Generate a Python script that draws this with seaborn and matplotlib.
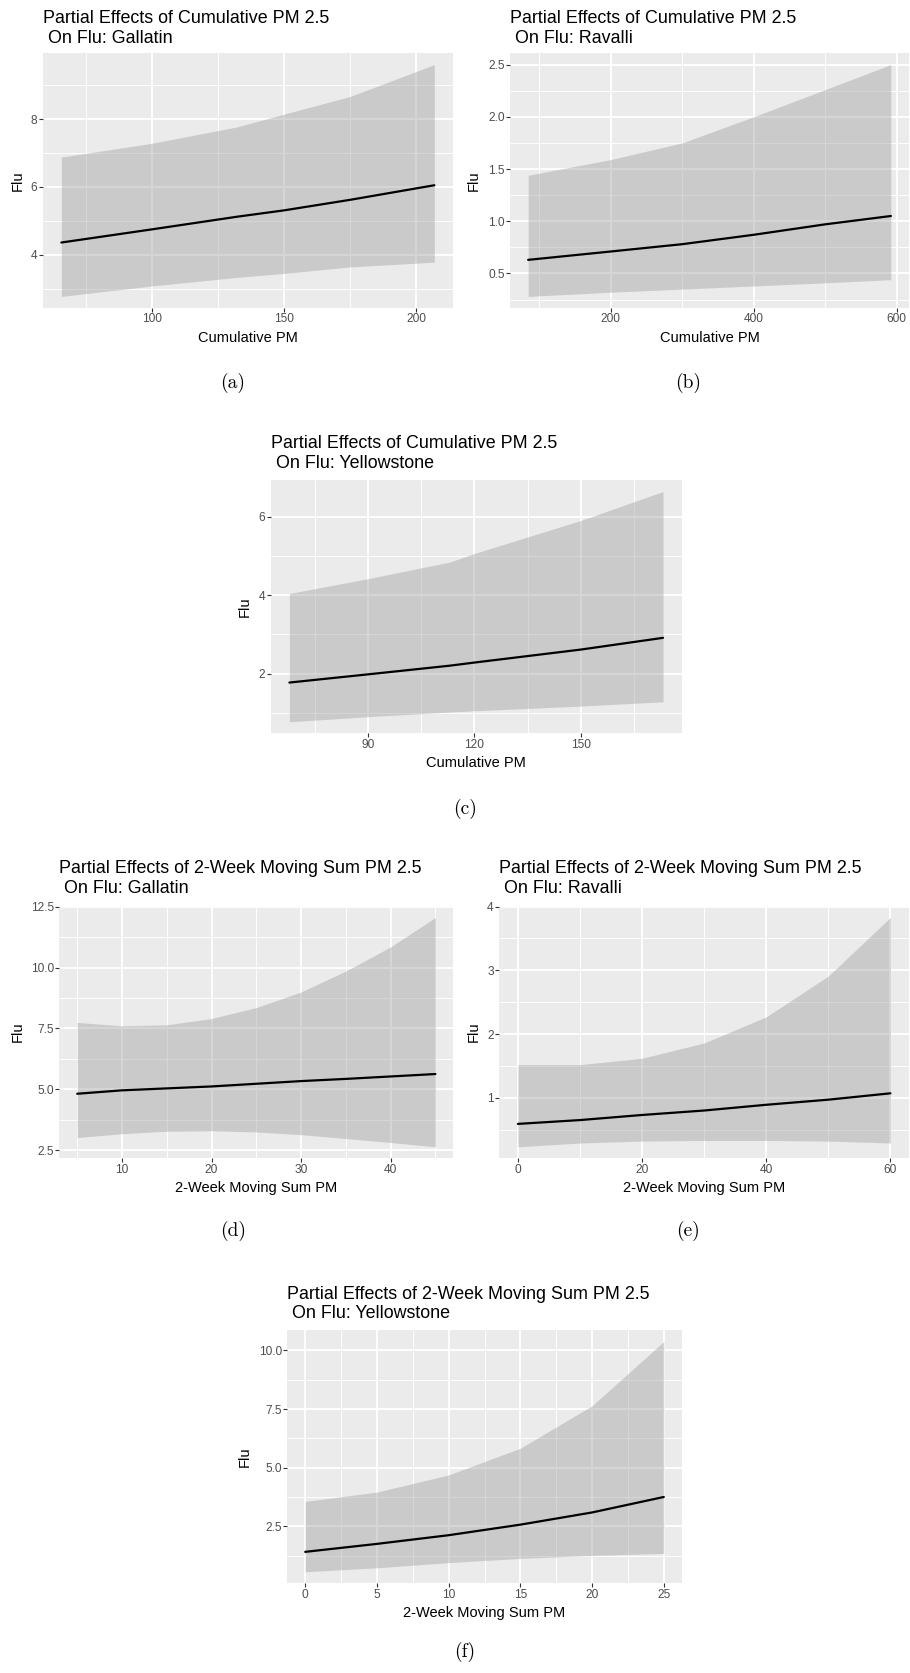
import numpy as np
import pandas as pd
import matplotlib
matplotlib.use("Agg")
import matplotlib.pyplot as plt
import seaborn as sns
from matplotlib.ticker import FixedLocator, FixedFormatter, AutoMinorLocator

# ---------------- data ----------------
title_main_cum = "Partial Effects of Cumulative PM 2.5"
title_main_mov = "Partial Effects of 2-Week Moving Sum PM 2.5"
counties = ["Gallatin", "Ravalli", "Yellowstone", "Gallatin", "Ravalli", "Yellowstone"]
xlabels = ["Cumulative PM"] * 3 + ["2-Week Moving Sum PM"] * 3
ylabel = "Flu"
captions = ["(a)", "(b)", "(c)", "(d)", "(e)", "(f)"]

# (a) Cumulative PM, Gallatin
a_x = [65.5, 100, 132, 150, 175, 206.9]
a_fit = [4.36, 4.75, 5.12, 5.31, 5.62, 6.05]
a_lo = [2.77, 3.08, 3.33, 3.45, 3.64, 3.78]
a_hi = [6.88, 7.29, 7.77, 8.15, 8.67, 9.61]
a_xt = [100, 150, 200]
a_yt = [4, 6, 8]

# (b) Cumulative PM, Ravalli
b_x = [84.6, 200, 300, 400, 500, 592]
b_fit = [0.63, 0.71, 0.78, 0.87, 0.97, 1.05]
b_lo = [0.28, 0.32, 0.35, 0.38, 0.41, 0.44]
b_hi = [1.44, 1.59, 1.75, 2.00, 2.26, 2.50]
b_xt = [200, 400, 600]
b_yt = [0.5, 1.0, 1.5, 2.0, 2.5]

# (c) Cumulative PM, Yellowstone
c_x = [67.7, 90, 113, 120, 150, 173.3]
c_fit = [1.77, 1.98, 2.20, 2.28, 2.61, 2.91]
c_lo = [0.77, 0.90, 1.02, 1.05, 1.17, 1.28]
c_hi = [4.04, 4.42, 4.84, 5.06, 5.90, 6.64]
c_xt = [90, 120, 150]
c_yt = [2, 4, 6]

# (d) 2-week moving sum, Gallatin
d_x = [5, 10, 15, 20, 25, 30, 35, 40, 45]
d_fit = [4.82, 4.96, 5.04, 5.12, 5.23, 5.34, 5.43, 5.53, 5.63]
d_lo = [3.02, 3.18, 3.28, 3.30, 3.25, 3.14, 2.98, 2.82, 2.64]
d_hi = [7.75, 7.61, 7.65, 7.91, 8.36, 9.00, 9.86, 10.85, 12.06]
d_xt = [10, 20, 30, 40]
d_yt = [2.5, 5.0, 7.5, 10.0, 12.5]

# (e) 2-week moving sum, Ravalli
e_x = [0, 10, 20, 30, 40, 50, 60]
e_fit = [0.59, 0.65, 0.73, 0.80, 0.89, 0.97, 1.07]
e_lo = [0.23, 0.29, 0.32, 0.33, 0.33, 0.32, 0.29]
e_hi = [1.52, 1.52, 1.62, 1.86, 2.27, 2.91, 3.83]
e_xt = [0, 20, 40, 60]
e_yt = [1, 2, 3, 4]

# (f) 2-week moving sum, Yellowstone
f_x = [0, 5, 10, 15, 20, 25]
f_fit = [1.41, 1.75, 2.12, 2.57, 3.09, 3.75]
f_lo = [0.56, 0.73, 0.95, 1.13, 1.26, 1.34]
f_hi = [3.56, 3.96, 4.69, 5.83, 7.64, 10.38]
f_xt = [0, 5, 10, 15, 20, 25]
f_yt = [2.5, 5.0, 7.5, 10.0]

ytick_fmt = ["{:g}", "{:.1f}", "{:g}", "{:.1f}", "{:g}", "{:.1f}"]

panels = [
    (a_x, a_fit, a_lo, a_hi, a_xt, a_yt),
    (b_x, b_fit, b_lo, b_hi, b_xt, b_yt),
    (c_x, c_fit, c_lo, c_hi, c_xt, c_yt),
    (d_x, d_fit, d_lo, d_hi, d_xt, d_yt),
    (e_x, e_fit, e_lo, e_hi, e_xt, e_yt),
    (f_x, f_fit, f_lo, f_hi, f_xt, f_yt),
]

# ---------------- layout (pixels, top-left origin) ----------------
W, H = 910, 1673
boxes = [
    (42.7, 53, 453, 308),
    (510, 53, 909, 308),
    (270.7, 480, 681.7, 733.3),
    (59.3, 906, 453.3, 1158.3),
    (499.3, 906, 909, 1158.3),
    (287.3, 1330, 681.7, 1583.3),
]
title_base = [(23.3, 42.7), (23.3, 42.7), (448.3, 468.3),
              (873.3, 893.3), (873.3, 893.3), (1299.3, 1318.3)]
ylab_x = [17.5, 473.5, 245, 17.5, 474, 244.5]
cap_pos = [(233, 388), (688, 388), (465, 813.5), (233, 1236), (688, 1236), (465, 1657)]

sns.set_theme(style="darkgrid")
plt.rcParams["font.family"] = ["Liberation Sans", "DejaVu Sans"]

fig = plt.figure(figsize=(W / 100, H / 100), dpi=100)
fig.patch.set_facecolor("white")


def ftext(x, y, s, **kw):
    return fig.text(x / W, 1 - y / H, s, **kw)


for i, (x, fit, lo, hi, xt, yt) in enumerate(panels):
    x0, y0, x1, y1 = boxes[i]
    ax = fig.add_axes([x0 / W, 1 - y1 / H, (x1 - x0) / W, (y1 - y0) / H])
    ax.set_facecolor("#EBEBEB")
    ax.fill_between(x, lo, hi, color="#999999", alpha=0.4, linewidth=0, zorder=2)
    df = pd.DataFrame({"x": x, "fit": fit})
    sns.lineplot(data=df, x="x", y="fit", ax=ax, color="black", linewidth=1.6, zorder=3)

    # ggplot-style 5% expansion of the data range
    xr = max(x) - min(x)
    ylo, yhi = min(lo), max(hi)
    yr = yhi - ylo
    ax.set_xlim(min(x) - 0.05 * xr, max(x) + 0.05 * xr)
    ax.set_ylim(ylo - 0.05 * yr, yhi + 0.05 * yr)

    ax.xaxis.set_major_locator(FixedLocator(xt))
    ax.xaxis.set_major_formatter(FixedFormatter([f"{v:g}" for v in xt]))
    ax.yaxis.set_major_locator(FixedLocator(yt))
    ax.yaxis.set_major_formatter(FixedFormatter([ytick_fmt[i].format(v) for v in yt]))
    ax.xaxis.set_minor_locator(AutoMinorLocator(2))
    ax.yaxis.set_minor_locator(AutoMinorLocator(2))

    ax.set_axisbelow(True)
    ax.grid(which="major", color="white", linewidth=1.3)
    ax.grid(which="minor", color="white", linewidth=0.65)
    for sp in ax.spines.values():
        sp.set_visible(False)
    ax.tick_params(which="minor", length=0)
    ax.tick_params(which="major", length=2.75, width=0.8, color="#333333",
                   labelcolor="#4D4D4D", labelsize=8.6)
    ax.tick_params(axis="x", which="major", pad=1.0, bottom=True)
    ax.tick_params(axis="y", which="major", pad=1.2, left=True)
    ax.set_xlabel("")
    ax.set_ylabel("")

    # titles
    main = title_main_cum if i < 3 else title_main_mov
    tb1, tb2 = title_base[i]
    ftext(x0, tb1, main, fontsize=12.9, color="black", ha="left", va="baseline")
    ftext(x0, tb2, " On Flu: " + counties[i], fontsize=12.9, color="black",
          ha="left", va="baseline")
    # axis titles
    ftext((x0 + x1) / 2, y1 + 33.6, xlabels[i], fontsize=10.5, color="black",
          ha="center", va="baseline")
    ftext(ylab_x[i], (y0 + y1) / 2, ylabel, fontsize=10.5, color="black",
          ha="center", va="center", rotation=90)
    # sub-figure caption
    cx, cy = cap_pos[i]
    ftext(cx, cy, captions[i], fontsize=14, family="cmr10", color="black",
          ha="center", va="baseline")

fig.savefig("out.png", dpi=100, facecolor="white")
